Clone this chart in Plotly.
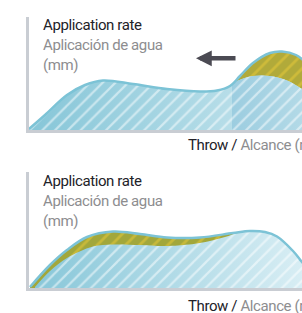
import plotly.graph_objects as go

# ---------------- data (x = throw position, y = application rate) ----------------
# top panel
top_outer_x = [29, 45, 67, 85, 103, 133, 167, 200, 217, 230, 240, 253, 270, 282, 296, 306, 316]
top_outer_y = [1, 15, 35, 45, 49.5, 46, 41, 38.5, 39.5, 44, 54, 67, 77, 78.5, 75, 67, 52]
top_inner_x = [232, 237, 253, 270, 287, 302, 316]
top_inner_y = [46, 49, 54, 54, 49.5, 41, 31]
# bottom panel
bot_outer_x = [30, 50, 67, 87, 113, 140, 167, 200, 233, 250, 265, 277, 293, 302, 313]
bot_outer_y = [1, 23, 38, 51, 56.5, 54, 50.5, 50.5, 55, 57, 56, 51.5, 37, 26, 12]
bot_inner_x = [35, 50, 67, 93, 113, 140, 167, 200, 225, 238]
bot_inner_y = [1, 17, 30, 41.5, 43.5, 43, 42, 45, 51, 55]

y_title_en = "Application rate"
y_title_es = "Aplicación de agua"
y_unit = "(mm)"
x_title_en = "Throw"
x_title_es = "Alcance (m)"

W, H = 302, 313
FONT = "Roboto, sans-serif"
DARK = "#222228"
GREY = "#8d8d8f"
AXIS = "#c9cdd3"
STROKE = "#7cc3d6"

fig = go.Figure()

def add_panel(xa, ya, outer_x, outer_y, blue_x, blue_y, olive, olive_stripe,
              grad, right=None):
    # olive (excess) area under outer curve
    fig.add_trace(go.Scatter(x=outer_x, y=outer_y, mode="lines", line=dict(width=0, shape="spline"),
                             fill="tozeroy", fillcolor=olive,
                             fillpattern=dict(shape="/", fgcolor=olive_stripe, bgcolor=olive,
                                              size=10, solidity=0.28),
                             xaxis=xa, yaxis=ya, hoverinfo="skip", showlegend=False))
    # blue base with gradient
    fig.add_trace(go.Scatter(x=blue_x, y=blue_y, mode="lines", line=dict(width=0, shape="spline"),
                             fill="tozeroy",
                             fillgradient=dict(type="horizontal",
                                               colorscale=[[0, grad[0]], [1, grad[1]]]),
                             xaxis=xa, yaxis=ya, hoverinfo="skip", showlegend=False))
    if right is not None:
        rx, ry, rc = right
        fig.add_trace(go.Scatter(x=rx, y=ry, mode="lines", line=dict(width=0, shape="spline"),
                                 fill="tozeroy",
                                 fillgradient=dict(type="horizontal",
                                                   colorscale=[[0, rc[0]], [1, rc[1]]]),
                                 xaxis=xa, yaxis=ya, hoverinfo="skip", showlegend=False))
    # white hatching over blue area
    fig.add_trace(go.Scatter(x=blue_x, y=blue_y, mode="lines", line=dict(width=0, shape="spline"),
                             fill="tozeroy", fillcolor="rgba(255,255,255,0)",
                             fillpattern=dict(shape="/", fgcolor="white",
                                              bgcolor="rgba(255,255,255,0)",
                                              size=9, solidity=0.25),
                             xaxis=xa, yaxis=ya, hoverinfo="skip", showlegend=False))
    # outline
    fig.add_trace(go.Scatter(x=outer_x, y=outer_y, mode="lines",
                             line=dict(width=2.5, color=STROKE, shape="spline"),
                             xaxis=xa, yaxis=ya, hoverinfo="skip", showlegend=False))

# top panel: blue follows outer curve then inner curve
tb_x = [x for x in top_outer_x if x <= 230] + top_inner_x[1:]
tb_y = [y for x, y in zip(top_outer_x, top_outer_y) if x <= 230] + top_inner_y[1:]
add_panel("x", "y", top_outer_x, top_outer_y, tb_x, tb_y,
          "#b1aa3a", "#eccb3a", ("#86c6d8", "#cbe7ef"),
          right=(top_inner_x, top_inner_y, ("#9ccde0", "#b7dce8")))

# bottom panel: blue follows inner curve then outer tail
bb_x = bot_inner_x + [x for x in bot_outer_x if x >= 250]
bb_y = bot_inner_y + [y for x, y in zip(bot_outer_x, bot_outer_y) if x >= 250]
add_panel("x2", "y2", bot_outer_x, bot_outer_y, bb_x, bb_y,
          "#a2a73b", "#eccb3a", ("#88c7d9", "#dbeff5"))

x0 = 28.8
ax_common = dict(showgrid=False, zeroline=False, showticklabels=False, ticks="",
                 showline=True, linecolor=AXIS, linewidth=3)
fig.update_layout(
    width=W, height=H, margin=dict(l=0, r=0, t=0, b=0),
    paper_bgcolor="white", plot_bgcolor="white",
    xaxis=dict(domain=[x0 / W, 1], range=[x0, W], anchor="y", **ax_common),
    yaxis=dict(domain=[1 - 130 / H, 1 - 16.5 / H], range=[0, 113.5], anchor="x", **ax_common),
    xaxis2=dict(domain=[x0 / W, 1], range=[x0, W], anchor="y2", **ax_common),
    yaxis2=dict(domain=[1 - 288 / H, 1 - 172 / H], range=[0, 116], anchor="x2", **ax_common),
)

def label(text, px, py, color):
    fig.add_annotation(text=f"<span style='letter-spacing:-0.4px'>{text}</span>",
                       x=px / W, y=1 - py / H, xref="paper", yref="paper",
                       xanchor="left", yanchor="middle", showarrow=False,
                       font=dict(family=FONT, size=15, color=color))

for base in (0, 156):
    label(y_title_en, 41, 25 + base, DARK)
    label(y_title_es, 41, 45 + base, GREY)
    label(y_unit, 41, 65 + base, GREY)

for py in (145, 306):
    label(f"{x_title_en} / <span style='color:{GREY}'>{x_title_es}</span>", 186, py, DARK)

# direction arrow
fig.add_annotation(x=196 / W, y=1 - 58.3 / H, xref="paper", yref="paper",
                   ax=41, ay=0, text="", showarrow=True,
                   arrowhead=2, arrowwidth=4.5, arrowsize=0.7, arrowcolor="#4b4a53")

fig.write_html("out.html", config={"displayModeBar": False, "staticPlot": True},
               post_script="document.body.style.margin='0';")
